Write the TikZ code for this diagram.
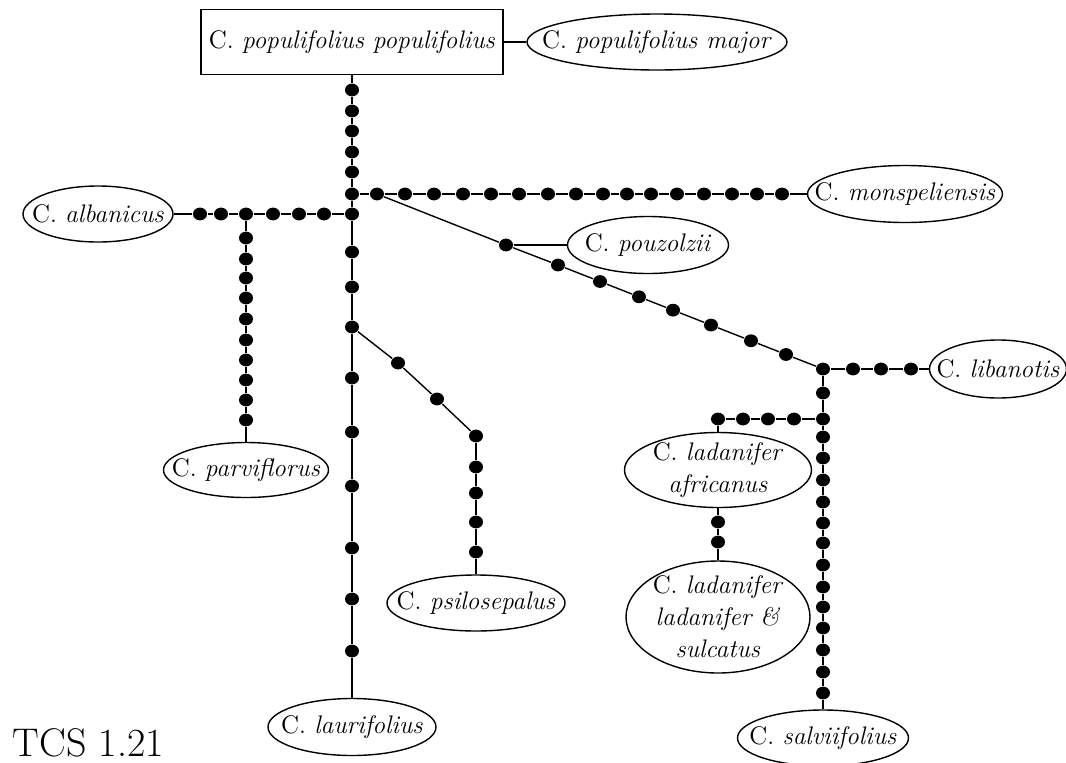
\documentclass[tikz,border=0pt]{standalone}
\usetikzlibrary{shapes.geometric}
\newcommand{\spname}[1]{C.~\textit{#1}}
\tikzset{
  mutdot/.style={ellipse,fill=black,inner sep=0pt,minimum width=7pt,minimum height=6.4pt},
  taxon/.style={draw,ellipse,inner xsep=-14pt,inner ysep=-4pt,align=center},
  ancbox/.style={draw,rectangle,inner sep=0pt}
}
\begin{document}
\begin{tikzpicture}[x=0.5pt,y=-0.5pt,line width=0.7pt,
    font=\fontsize{12.7}{16}\selectfont]
    \useasboundingbox (0,0) rectangle (1066,762);
    % populifolius part
    \node[ancbox,minimum width=151pt,minimum height=32.5pt] (pop) at (352,42)
      {\spname{populifolius populifolius}};
    \node[taxon,minimum width=130pt,minimum height=28pt] (major) at (657,42)
      {\spname{populifolius major}};
    \draw (pop) -- (major);
    % main trunk
    \foreach \y [count=\i] in {90,111,131,152,172,194,214,252,287,327,378,432,486,548,599,651}
      \node[mutdot] (t\i) at (352,\y) {};
    \node[taxon,minimum width=84pt,minimum height=28.5pt] (laur) at (352,727)
      {\spname{laurifolius}};
    \draw (pop) -- (t1);
    \foreach \i [remember=\i as \j (initially 1)] in {2,...,16}
      \draw (t\j) -- (t\i);
    \draw (t16) -- (laur);
    % monspeliensis part
    \foreach \x [count=\i] in {377,405,434,463,491,519,548,576,603,627,651,677,704,732,757,782}
      \node[mutdot] (m\i) at (\x,194) {};
    \node[taxon,minimum width=97.5pt,minimum height=28.5pt] (mons) at (905,194)
      {\spname{monspeliensis}};
    \draw (t6) -- (m1);
    \foreach \i [remember=\i as \j (initially 1)] in {2,...,16}
      \draw (m\j) -- (m\i);
    \draw (m16) -- (mons);
    % albanicus part
    \foreach \x [count=\i] in {324,299,273,246,221,200}
      \node[mutdot] (w\i) at (\x,214) {};
    \node[taxon,minimum width=75pt,minimum height=28pt] (alb) at (98,214)
      {\spname{albanicus}};
    \draw (t7) -- (w1);
    \foreach \i [remember=\i as \j (initially 1)] in {2,...,6}
      \draw (w\j) -- (w\i);
    \draw (w6) -- (alb);
    % parviflorus part
    \foreach \y [count=\i] in {238,259,278,298,319,340,360,380,400,420}
      \node[mutdot] (v\i) at (246,\y) {};
    \node[taxon,minimum width=82.5pt,minimum height=27.5pt] (parv) at (246,470)
      {\spname{parviflorus}};
    \draw (w4) -- (v1);
    \foreach \i [remember=\i as \j (initially 1)] in {2,...,10}
      \draw (v\j) -- (v\i);
    \draw (v10) -- (parv);
    % psilosepalus part
    \node[mutdot] (q1) at (398,363) {};
    \node[mutdot] (q2) at (437,399) {};
    \foreach \y [count=\i from 3] in {436,467,493,522,552}
      \node[mutdot] (q\i) at (476,\y) {};
    \node[taxon,minimum width=89pt,minimum height=28pt] (psi) at (476,603)
      {\spname{psilosepalus}};
    \draw (t10) -- (q1);
    \foreach \i [remember=\i as \j (initially 1)] in {2,...,7}
      \draw (q\j) -- (q\i);
    \draw (q7) -- (psi);
    % pouzolzii diagonal
    \node[mutdot] (p1) at (506,245) {};
    \node[taxon,minimum width=80.5pt,minimum height=28.5pt] (pouz) at (648,245)
      {\spname{pouzolzii}};
    \foreach \x [count=\i] in {558,600,639,673,711,751,786}
      \node[mutdot] (d\i) at (\x,{194+(\x-377)*0.3924}) {};
    \node[mutdot] (jn) at (823,369) {};
    \draw (m1) -- (p1);
    \draw (p1) -- (pouz);
    \draw (p1) -- (d1);
    \foreach \i [remember=\i as \j (initially 1)] in {2,...,7}
      \draw (d\j) -- (d\i);
    \draw (d7) -- (jn);
    % libanotis part
    \foreach \x [count=\i] in {853,881,911}
      \node[mutdot] (l\i) at (\x,369) {};
    \node[taxon,minimum width=68.5pt,minimum height=29pt] (liban) at (998,369)
      {\spname{libanotis}};
    \draw (jn) -- (l1) -- (l2) -- (l3) -- (liban);
    % salviifolius part
    \foreach \y [count=\i] in {393,419,437,458,480,502,523,543,565,587,607,628,650,672,693}
      \node[mutdot] (s\i) at (823,\y) {};
    \node[taxon,minimum width=85.5pt,minimum height=28pt] (salv) at (823,738)
      {\spname{salviifolius}};
    \draw (jn) -- (s1);
    \foreach \i [remember=\i as \j (initially 1)] in {2,...,15}
      \draw (s\j) -- (s\i);
    \draw (s15) -- (salv);
    % ladanifer part
    \foreach \x [count=\i] in {794,768,743,718}
      \node[mutdot] (a\i) at (\x,419) {};
    \node[taxon,minimum width=93.5pt,minimum height=37.5pt] (afr) at (718,470)
      {\spname{ladanifer}\\\textit{africanus}};
    \node[mutdot] (b1) at (718,522) {};
    \node[mutdot] (b2) at (718,542) {};
    \node[taxon,minimum width=92pt,minimum height=56pt] (lad) at (718,617)
      {\spname{ladanifer}\\\textit{ladanifer \&}\\\textit{sulcatus}};
    \draw (s2) -- (a1) -- (a2) -- (a3) -- (a4);
    \draw (a4) -- (afr);
    \draw (afr) -- (b1) -- (b2) -- (lad);
    % label
    \node[anchor=base west,inner sep=0pt,font=\fontsize{20}{22}\selectfont] (tcs)
      at (12,756) {TCS 1.21};
\end{tikzpicture}
\end{document}
